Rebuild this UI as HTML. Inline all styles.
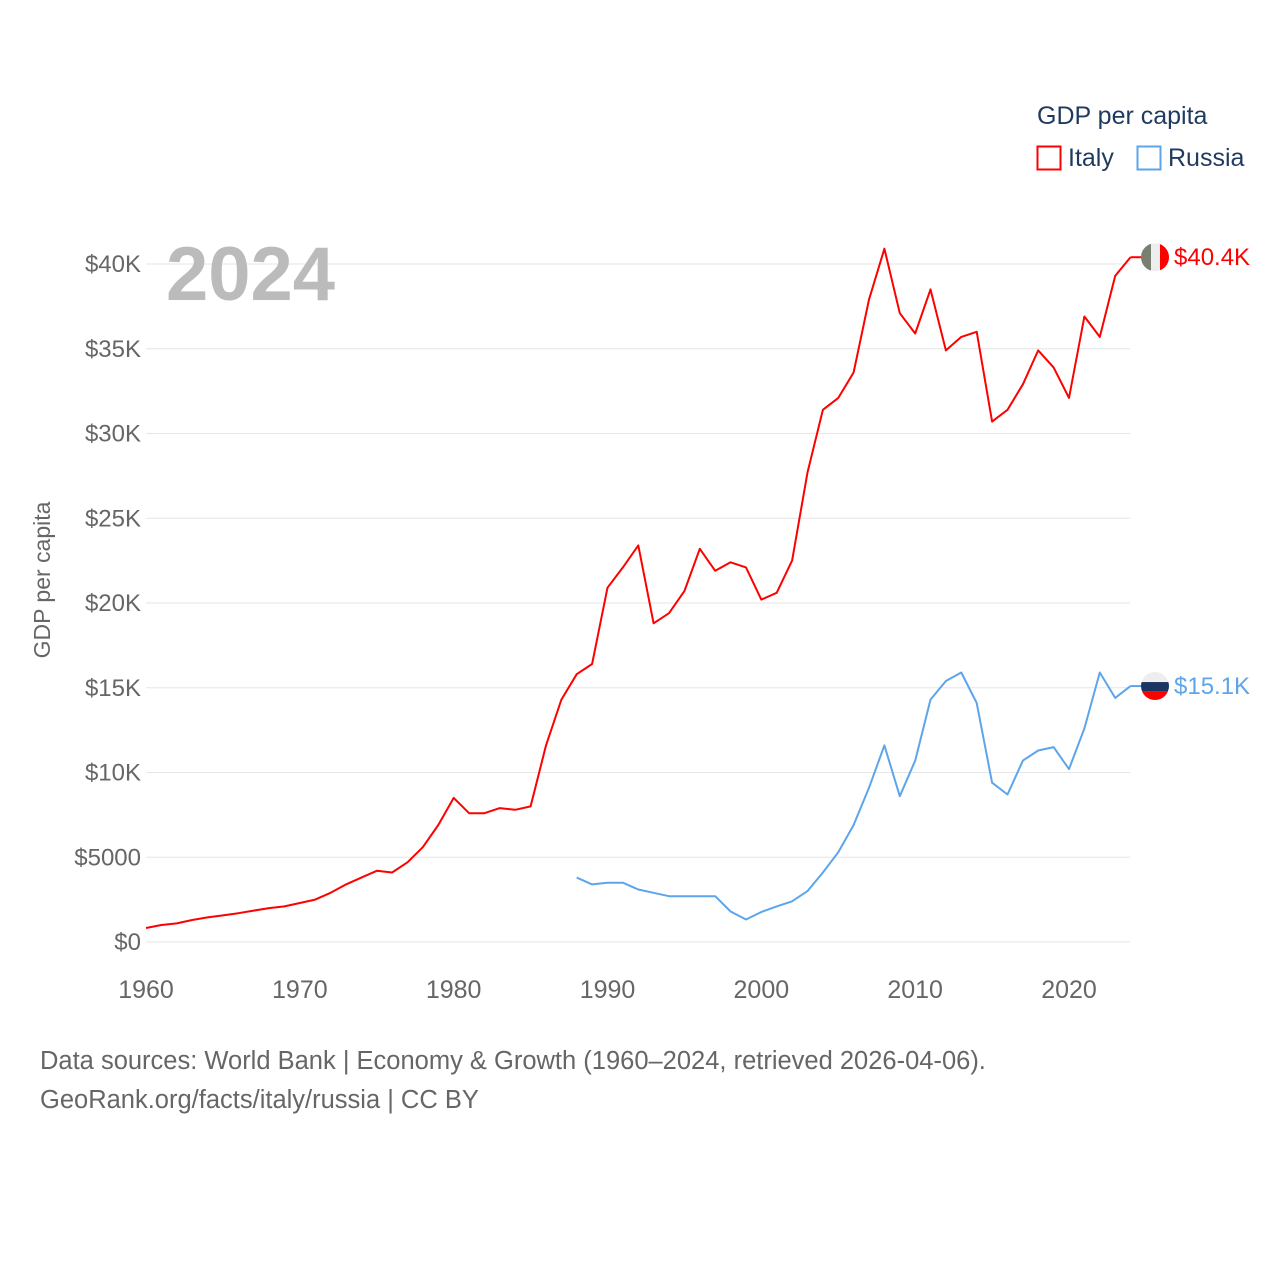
<!DOCTYPE html>
<html><head><meta charset="utf-8">
<style>
html,body{margin:0;padding:0;background:#fff;width:1280px;height:1280px;overflow:hidden}
svg{display:block;font-family:"Liberation Sans",sans-serif}
</style></head>
<body>
<svg id="chart" width="1280" height="1280" viewBox="0 0 1280 1280" xmlns="http://www.w3.org/2000/svg">
<g id="grid"></g>
<g id="yticks"></g>
<g id="xticks"></g>
<text transform="translate(50,580) rotate(-90)" text-anchor="middle" font-size="23" fill="#666">GDP per capita</text>
<text x="166" y="300" font-size="76" font-weight="bold" fill="#bbb">2024</text>
<g id="series"></g>
<g>
<text x="1037" y="124" font-size="25" fill="#1f3a5f">GDP per capita</text>
<rect x="1037.5" y="146.5" width="23" height="23" fill="none" stroke="#ff0000" stroke-width="2"/>
<text x="1068" y="166" font-size="25" fill="#1f3a5f">Italy</text>
<rect x="1137.5" y="146.5" width="23" height="23" fill="none" stroke="#5da5ea" stroke-width="2"/>
<text x="1168" y="166" font-size="25" fill="#1f3a5f">Russia</text>
</g>
<text x="40" y="1069" font-size="25.5" fill="#666">Data sources: World Bank | Economy &amp; Growth (1960–2024, retrieved 2026-04-06).</text>
<text x="40" y="1108" font-size="25.5" fill="#666">GeoRank.org/facts/italy/russia | CC BY</text>
</svg>
<script>
const yTicks=[0,5000,10000,15000,20000,25000,30000,35000,40000];
const yTickLabels=["$0","$5000","$10K","$15K","$20K","$25K","$30K","$35K","$40K"];
const xTicks=[1960,1970,1980,1990,2000,2010,2020];
const italyStart=1960;
const italyValues=[826,1000,1100,1300,1450,1570,1700,1850,2000,2100,2300,2500,2900,3400,3800,4200,4100,4700,5600,6900,8500,7600,7600,7900,7800,8000,11600,14300,15800,16400,20900,22100,23400,18800,19400,20700,23200,21900,22400,22100,20200,20600,22500,27700,31400,32100,33600,37900,40900,37100,35900,38500,34900,35700,36000,30700,31400,32900,34900,33900,32100,36900,35700,39300,40400];
const russiaStart=1988;
const russiaValues=[3800,3400,3500,3500,3100,2900,2700,2700,2700,2700,1800,1330,1770,2100,2400,3000,4100,5300,6900,9100,11600,8600,10700,14300,15400,15900,14100,9400,8700,10700,11300,11500,10200,12600,15900,14400,15100];
const endLabels=["$40.4K","$15.1K"];

const NS="http://www.w3.org/2000/svg";
const X=y=>146+(y-1960)*(1069-146)/60;
const Y=v=>942-v*(942-264)/40000;
function mk(tag,attrs,parent){const e=document.createElementNS(NS,tag);for(const k in attrs)e.setAttribute(k,attrs[k]);parent.appendChild(e);return e;}
const grid=document.getElementById('grid'),yt=document.getElementById('yticks'),xt=document.getElementById('xticks'),ser=document.getElementById('series');
yTicks.forEach((v,i)=>{
 const l=mk('line',{x1:146,x2:1130,y1:Y(v),y2:Y(v),stroke:'#e6e6e6','stroke-width':1},grid);
 
 
 const t=mk('text',{x:141,y:Y(v)+8,'text-anchor':'end','font-size':24,fill:'#666'},yt);
 t.textContent=yTickLabels[i];
 
 
});
xTicks.forEach(v=>{
 const t=mk('text',{x:X(v),y:998,'text-anchor':'middle','font-size':25,fill:'#666'},xt);
 t.textContent=v;
 
 
});
function series(start,vals,color,name){
 const pts=vals.map((v,i)=>X(start+i).toFixed(1)+','+Y(v).toFixed(1)).join(' ');
 const p=mk('polyline',{points:pts,fill:'none',stroke:color,'stroke-width':2,'stroke-linejoin':'round'},ser);
 
 
 const ly=Y(vals[vals.length-1]);
 const c=mk('line',{x1:X(start+vals.length-1),x2:1142,y1:ly,y2:ly,stroke:color,'stroke-width':2},ser);
 
 
 return ly;
}
const iy=series(italyStart,italyValues,'#ff0000','italy');
const ry=series(russiaStart,russiaValues,'#5da5ea','russia');
const defs=mk('defs',{},ser);
const cp1=mk('clipPath',{id:'c1'},defs);mk('circle',{cx:1155,cy:iy,r:14},cp1);
const cp2=mk('clipPath',{id:'c2'},defs);mk('circle',{cx:1155,cy:ry,r:14},cp2);
const f1=mk('g',{'clip-path':'url(#c1)'},ser);


mk('rect',{x:1141,y:iy-14,width:10,height:28,fill:'#7a8070'},f1);
mk('rect',{x:1151,y:iy-14,width:9,height:28,fill:'#eeeeee'},f1);
mk('rect',{x:1160,y:iy-14,width:10,height:28,fill:'#ff0000'},f1);
const f2=mk('g',{'clip-path':'url(#c2)'},ser);


mk('rect',{x:1141,y:ry-14,width:28,height:10,fill:'#eeeeee'},f2);
mk('rect',{x:1141,y:ry-4,width:28,height:9,fill:'#1a3560'},f2);
mk('rect',{x:1141,y:ry+5,width:28,height:10,fill:'#ff0000'},f2);
const l1=mk('text',{x:1174,y:iy+8,'font-size':24,fill:'#ff0000'},ser);l1.textContent=endLabels[0];


const l2=mk('text',{x:1174,y:ry+8,'font-size':24,fill:'#5da5ea'},ser);l2.textContent=endLabels[1];


</script>
</body></html>
